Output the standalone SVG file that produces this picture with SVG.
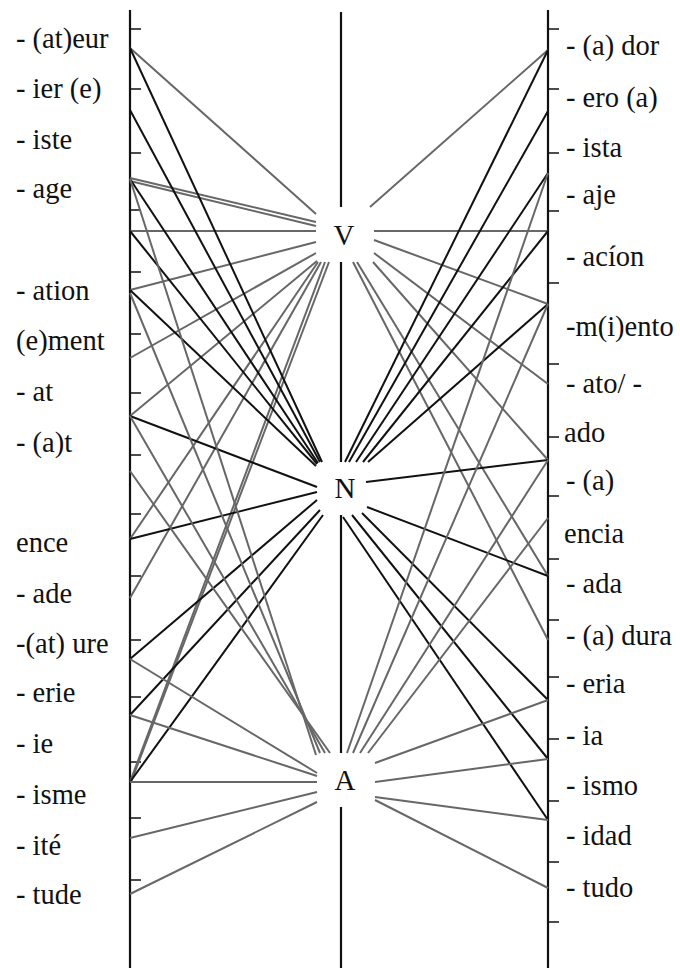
<svg xmlns="http://www.w3.org/2000/svg" width="680" height="968" viewBox="0 0 680 968">
<style>
.ax{stroke:#111;stroke-width:2.2;fill:none}
.tk{stroke:#111;stroke-width:1.5}
.g{stroke:#676767;stroke-width:2;fill:none}
.k{stroke:#111;stroke-width:2;fill:none}
.lb{font-family:"Liberation Serif","Times New Roman",serif;font-size:28.5px;fill:#111}
.nd{font-family:"Liberation Serif","Times New Roman",serif;font-size:29px;fill:#111;text-anchor:middle}
</style>
<rect width="680" height="968" fill="#fff"/>
<g id="axes">
<line class="ax" x1="130" y1="10" x2="130" y2="968"/>
<line class="ax" x1="548" y1="10" x2="548" y2="968"/>
<line class="ax" x1="341" y1="12" x2="341" y2="207" stroke-width="2.6"/>
<line class="ax" x1="341" y1="262" x2="341" y2="462" stroke-width="2.6"/>
<line class="ax" x1="341" y1="515" x2="341" y2="753" stroke-width="2.6"/>
<line class="ax" x1="341" y1="807" x2="341" y2="968" stroke-width="2.6"/>
</g>
<g id="ticks-left">
<line class="tk" x1="130" y1="29" x2="141" y2="29"/>
<line class="tk" x1="130" y1="89" x2="141" y2="89"/>
<line class="tk" x1="130" y1="153" x2="141" y2="153"/>
<line class="tk" x1="130" y1="210" x2="141" y2="210"/>
<line class="tk" x1="130" y1="272" x2="141" y2="272"/>
<line class="tk" x1="130" y1="334" x2="141" y2="334"/>
<line class="tk" x1="130" y1="393" x2="141" y2="393"/>
<line class="tk" x1="130" y1="455" x2="141" y2="455"/>
<line class="tk" x1="130" y1="514" x2="141" y2="514"/>
<line class="tk" x1="130" y1="576" x2="141" y2="576"/>
<line class="tk" x1="130" y1="640" x2="141" y2="640"/>
<line class="tk" x1="130" y1="697" x2="141" y2="697"/>
<line class="tk" x1="130" y1="762" x2="141" y2="762"/>
<line class="tk" x1="130" y1="818" x2="141" y2="818"/>
<line class="tk" x1="130" y1="880" x2="141" y2="880"/>
</g>
<g id="ticks-right">
<line class="tk" x1="548" y1="29" x2="559" y2="29"/>
<line class="tk" x1="548" y1="89" x2="559" y2="89"/>
<line class="tk" x1="548" y1="153" x2="559" y2="153"/>
<line class="tk" x1="548" y1="211" x2="559" y2="211"/>
<line class="tk" x1="548" y1="283" x2="559" y2="283"/>
<line class="tk" x1="548" y1="364" x2="559" y2="364"/>
<line class="tk" x1="548" y1="437" x2="559" y2="437"/>
<line class="tk" x1="548" y1="496" x2="559" y2="496"/>
<line class="tk" x1="548" y1="559" x2="559" y2="559"/>
<line class="tk" x1="548" y1="620" x2="559" y2="620"/>
<line class="tk" x1="548" y1="677" x2="559" y2="677"/>
<line class="tk" x1="548" y1="739" x2="559" y2="739"/>
<line class="tk" x1="548" y1="801" x2="559" y2="801"/>
<line class="tk" x1="548" y1="862" x2="559" y2="862"/>
<line class="tk" x1="548" y1="922" x2="559" y2="922"/>
</g>
<g id="connectors">
<line class="g" x1="130" y1="48" x2="316" y2="214"/>
<line class="g" x1="130" y1="178" x2="316" y2="222"/>
<line class="g" x1="130" y1="181" x2="316" y2="226"/>
<line class="g" x1="130" y1="231" x2="316" y2="231"/>
<line class="g" x1="130" y1="290" x2="316" y2="242"/>
<line class="g" x1="130" y1="358" x2="316" y2="253"/>
<line class="g" x1="130" y1="416" x2="317" y2="261"/>
<line class="g" x1="130" y1="539" x2="318" y2="262"/>
<line class="g" x1="130" y1="598" x2="321" y2="262"/>
<line class="g" x1="130" y1="782" x2="325" y2="262"/>
<line class="g" x1="131" y1="782" x2="329" y2="262"/>
<line class="k" x1="130" y1="48" x2="322" y2="462"/>
<line class="k" x1="130" y1="110" x2="320" y2="462"/>
<line class="k" x1="130" y1="179" x2="318" y2="463"/>
<line class="k" x1="130" y1="231" x2="317" y2="464"/>
<line class="k" x1="130" y1="290" x2="316" y2="466"/>
<line class="k" x1="130" y1="416" x2="317" y2="487"/>
<line class="k" x1="130" y1="539" x2="317" y2="492"/>
<line class="k" x1="130" y1="659" x2="317" y2="500"/>
<line class="k" x1="130" y1="715" x2="320" y2="510"/>
<line class="k" x1="130" y1="782" x2="323" y2="515"/>
<line class="g" x1="130" y1="179" x2="316" y2="755"/>
<line class="g" x1="130" y1="293" x2="320" y2="753"/>
<line class="g" x1="130" y1="416" x2="325" y2="753"/>
<line class="g" x1="130" y1="471" x2="330" y2="753"/>
<line class="g" x1="130" y1="659" x2="317" y2="773"/>
<line class="g" x1="130" y1="715" x2="317" y2="776"/>
<line class="g" x1="130" y1="782" x2="317" y2="782"/>
<line class="g" x1="130" y1="838" x2="317" y2="792"/>
<line class="g" x1="130" y1="894" x2="317" y2="802"/>
<line class="g" x1="548" y1="50" x2="370" y2="207"/>
<line class="g" x1="548" y1="231" x2="374" y2="231"/>
<line class="g" x1="548" y1="304" x2="374" y2="240"/>
<line class="g" x1="548" y1="384" x2="374" y2="253"/>
<line class="g" x1="548" y1="460" x2="373" y2="262"/>
<line class="g" x1="548" y1="576" x2="357" y2="262"/>
<line class="g" x1="548" y1="640" x2="353" y2="262"/>
<line class="k" x1="548" y1="50" x2="345" y2="462"/>
<line class="k" x1="548" y1="111" x2="349" y2="462"/>
<line class="k" x1="548" y1="173" x2="356" y2="462"/>
<line class="k" x1="548" y1="231" x2="363" y2="462"/>
<line class="k" x1="548" y1="304" x2="368" y2="462"/>
<line class="k" x1="548" y1="460" x2="366" y2="482"/>
<line class="k" x1="548" y1="576" x2="367" y2="507"/>
<line class="k" x1="548" y1="700" x2="362" y2="513"/>
<line class="k" x1="548" y1="759" x2="352" y2="515"/>
<line class="k" x1="548" y1="820" x2="343" y2="517"/>
<line class="g" x1="548" y1="173" x2="347" y2="753"/>
<line class="g" x1="548" y1="304" x2="353" y2="753"/>
<line class="g" x1="548" y1="460" x2="360" y2="753"/>
<line class="g" x1="548" y1="518" x2="368" y2="753"/>
<line class="g" x1="548" y1="700" x2="375" y2="763"/>
<line class="g" x1="548" y1="759" x2="375" y2="782"/>
<line class="g" x1="548" y1="820" x2="375" y2="797"/>
<line class="g" x1="548" y1="888" x2="375" y2="800"/>
</g>
<g id="node-V"><text class="nd" x="344" y="245">V</text></g>
<g id="node-N"><text class="nd" x="345" y="498">N</text></g>
<g id="node-A"><text class="nd" x="345" y="790">A</text></g>
<g id="labels-left" class="lb">
<text x="16" y="48">- (at)eur</text>
<text x="16" y="98">- ier (e)</text>
<text x="16" y="149">- iste</text>
<text x="16" y="198">- age</text>
<text x="16" y="300">- ation</text>
<text x="16" y="350">(e)ment</text>
<text x="16" y="401">- at</text>
<text x="16" y="452">- (a)t</text>
<text x="16" y="552">ence</text>
<text x="16" y="603">- ade</text>
<text x="16" y="653">-(at) ure</text>
<text x="16" y="702">- erie</text>
<text x="16" y="753">- ie</text>
<text x="16" y="804">- isme</text>
<text x="16" y="855">- ité</text>
<text x="16" y="904">- tude</text>
</g>
<g id="labels-right" class="lb">
<text x="566" y="55">- (a) dor</text>
<text x="566" y="107">- ero (a)</text>
<text x="566" y="157">- ista</text>
<text x="566" y="204">- aje</text>
<text x="566" y="266">- acíon</text>
<text x="566" y="336">-m(i)ento</text>
<text x="566" y="393">- ato/ -</text>
<text x="564" y="442">ado</text>
<text x="566" y="490">- (a)</text>
<text x="564" y="543">encia</text>
<text x="566" y="593">- ada</text>
<text x="566" y="645">- (a) dura</text>
<text x="566" y="693">- eria</text>
<text x="566" y="745">- ia</text>
<text x="566" y="795">- ismo</text>
<text x="566" y="845">- idad</text>
<text x="566" y="897">- tudo</text>
</g>
</svg>
